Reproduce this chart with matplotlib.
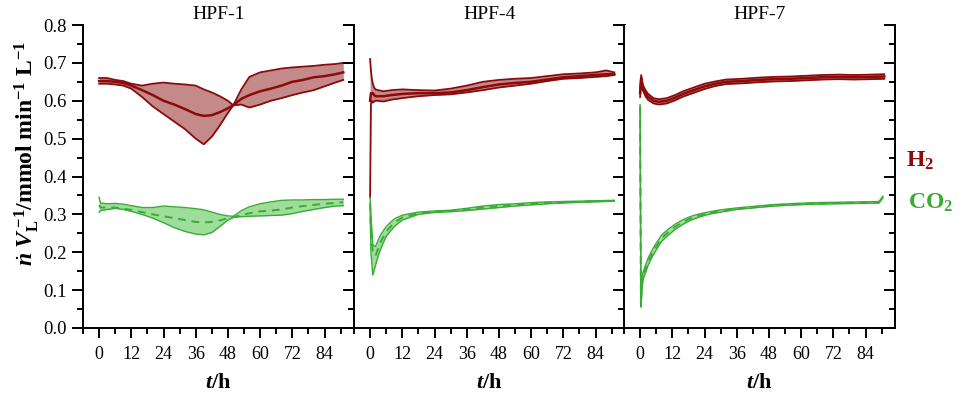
import matplotlib
matplotlib.use("Agg")
import matplotlib.pyplot as plt
from matplotlib.ticker import MultipleLocator, FormatStrFormatter

plt.rcParams["font.family"] = "Liberation Serif"
plt.rcParams["mathtext.fontset"] = "custom"
plt.rcParams["mathtext.rm"] = "Liberation Serif"
plt.rcParams["mathtext.it"] = "Liberation Serif:italic"
plt.rcParams["mathtext.bf"] = "Liberation Serif:bold"
plt.rcParams["mathtext.bfit"] = "Liberation Serif:bold:italic"

H2_LINE = "#8b0a0a"
H2_FILL = "#c48a8a"
CO2_LINE = "#3aab35"
CO2_FILL = "#9fdd9a"

titles = ["HPF-1", "HPF-4", "HPF-7"]

# ---- HPF-1 ----
t1_h2 = [0, 3, 6, 9, 12, 16, 20, 24, 28, 32, 36, 39, 42, 45, 48, 50, 53, 56, 60, 64, 68, 72, 76, 80, 84, 88, 91]
h2_1_up = [0.660, 0.660, 0.655, 0.652, 0.645, 0.640, 0.645, 0.648, 0.645, 0.643, 0.640, 0.630, 0.622, 0.612, 0.600, 0.588, 0.630, 0.663, 0.675, 0.680, 0.685, 0.688, 0.690, 0.692, 0.695, 0.697, 0.700]
h2_1_mid = [0.652, 0.652, 0.650, 0.647, 0.640, 0.628, 0.615, 0.600, 0.590, 0.578, 0.565, 0.560, 0.562, 0.570, 0.580, 0.588, 0.605, 0.615, 0.625, 0.632, 0.640, 0.650, 0.655, 0.662, 0.665, 0.670, 0.675]
h2_1_lo = [0.645, 0.645, 0.643, 0.640, 0.632, 0.610, 0.585, 0.565, 0.545, 0.525, 0.500, 0.485, 0.505, 0.535, 0.568, 0.588, 0.590, 0.582, 0.590, 0.600, 0.607, 0.615, 0.622, 0.628, 0.638, 0.648, 0.655]

t1_co2 = [0, 0.5, 3, 6, 9, 12, 16, 20, 24, 28, 32, 36, 39, 42, 45, 48, 50, 53, 56, 60, 64, 68, 72, 76, 80, 84, 88, 91]
co2_1_up = [0.345, 0.330, 0.328, 0.329, 0.327, 0.323, 0.318, 0.318, 0.322, 0.320, 0.318, 0.315, 0.312, 0.306, 0.300, 0.296, 0.295, 0.310, 0.320, 0.328, 0.333, 0.337, 0.338, 0.338, 0.339, 0.339, 0.340, 0.340]
co2_1_mid = [0.325, 0.318, 0.318, 0.318, 0.315, 0.312, 0.306, 0.300, 0.295, 0.290, 0.285, 0.280, 0.279, 0.280, 0.284, 0.290, 0.293, 0.298, 0.303, 0.308, 0.310, 0.313, 0.318, 0.322, 0.325, 0.328, 0.330, 0.332]
co2_1_lo = [0.305, 0.310, 0.313, 0.316, 0.313, 0.308, 0.300, 0.290, 0.278, 0.265, 0.255, 0.248, 0.246, 0.252, 0.268, 0.285, 0.292, 0.294, 0.295, 0.296, 0.297, 0.298, 0.302, 0.308, 0.313, 0.318, 0.322, 0.323]

# ---- HPF-4 ----
t4_h2 = [0, 0.3, 0.6, 1, 1.5, 2, 3, 5, 8, 12, 18, 24, 30, 36, 42, 48, 54, 60, 66, 72, 78, 84, 88, 91]
h2_4_up = [0.710, 0.680, 0.660, 0.645, 0.635, 0.630, 0.628, 0.625, 0.628, 0.630, 0.628, 0.627, 0.632, 0.640, 0.650, 0.655, 0.658, 0.660, 0.665, 0.670, 0.672, 0.675, 0.680, 0.675]
h2_4_mid = [0.600, 0.620, 0.620, 0.620, 0.615, 0.612, 0.612, 0.612, 0.615, 0.618, 0.620, 0.620, 0.622, 0.628, 0.636, 0.643, 0.647, 0.650, 0.656, 0.662, 0.665, 0.668, 0.670, 0.670]
h2_4_lo = [0.345, 0.590, 0.600, 0.595, 0.598, 0.600, 0.600, 0.598, 0.603, 0.607, 0.612, 0.615, 0.617, 0.622, 0.628, 0.635, 0.640, 0.645, 0.652, 0.658, 0.660, 0.663, 0.665, 0.668]

t4_co2 = [0, 0.3, 1, 2, 3, 4, 6, 9, 12, 18, 24, 30, 36, 42, 48, 54, 60, 66, 72, 78, 84, 91]
co2_4_up = [0.345, 0.300, 0.220, 0.215, 0.232, 0.247, 0.268, 0.288, 0.298, 0.306, 0.309, 0.311, 0.316, 0.322, 0.326, 0.328, 0.331, 0.333, 0.334, 0.335, 0.336, 0.337]
co2_4_mid = [0.330, 0.250, 0.200, 0.190, 0.210, 0.228, 0.255, 0.278, 0.292, 0.303, 0.307, 0.309, 0.313, 0.318, 0.322, 0.325, 0.328, 0.330, 0.332, 0.333, 0.335, 0.336]
co2_4_lo = [0.320, 0.200, 0.140, 0.165, 0.190, 0.210, 0.242, 0.268, 0.285, 0.300, 0.305, 0.307, 0.310, 0.314, 0.318, 0.322, 0.325, 0.328, 0.330, 0.332, 0.333, 0.335]

# ---- HPF-7 ----
t7_h2 = [0, 0.4, 1, 2, 3, 5, 7, 10, 13, 16, 20, 24, 28, 32, 38, 44, 50, 56, 62, 68, 74, 80, 86, 91]
h2_7_up = [0.630, 0.668, 0.642, 0.628, 0.618, 0.607, 0.604, 0.607, 0.615, 0.625, 0.635, 0.645, 0.651, 0.656, 0.658, 0.661, 0.663, 0.664, 0.666, 0.668, 0.669, 0.668, 0.669, 0.670]
h2_7_mid = [0.620, 0.660, 0.635, 0.620, 0.610, 0.600, 0.597, 0.600, 0.608, 0.618, 0.628, 0.638, 0.645, 0.650, 0.652, 0.655, 0.657, 0.658, 0.660, 0.662, 0.663, 0.662, 0.663, 0.664]
h2_7_lo = [0.610, 0.652, 0.628, 0.612, 0.602, 0.593, 0.590, 0.593, 0.601, 0.611, 0.621, 0.631, 0.639, 0.644, 0.646, 0.649, 0.651, 0.652, 0.654, 0.656, 0.657, 0.656, 0.657, 0.658]

t7_co2 = [0, 0.3, 0.6, 1, 2, 3, 4.5, 6, 8, 10, 13, 16, 19, 22, 26, 30, 36, 42, 50, 58, 66, 74, 82, 89, 90.5]
co2_7_up = [0.590, 0.070, 0.110, 0.145, 0.165, 0.185, 0.206, 0.224, 0.245, 0.258, 0.274, 0.286, 0.295, 0.301, 0.307, 0.312, 0.317, 0.321, 0.326, 0.329, 0.331, 0.332, 0.333, 0.334, 0.348]
co2_7_mid = [0.585, 0.060, 0.100, 0.135, 0.155, 0.175, 0.197, 0.215, 0.237, 0.250, 0.267, 0.280, 0.290, 0.297, 0.304, 0.309, 0.315, 0.319, 0.324, 0.327, 0.329, 0.330, 0.331, 0.332, 0.346]
co2_7_lo = [0.580, 0.055, 0.092, 0.126, 0.146, 0.166, 0.188, 0.206, 0.229, 0.242, 0.260, 0.274, 0.285, 0.293, 0.301, 0.306, 0.313, 0.317, 0.322, 0.325, 0.327, 0.328, 0.329, 0.330, 0.344]

panels = [
    (t1_h2, h2_1_lo, h2_1_mid, h2_1_up, t1_co2, co2_1_lo, co2_1_mid, co2_1_up),
    (t4_h2, h2_4_lo, h2_4_mid, h2_4_up, t4_co2, co2_4_lo, co2_4_mid, co2_4_up),
    (t7_h2, h2_7_lo, h2_7_mid, h2_7_up, t7_co2, co2_7_lo, co2_7_mid, co2_7_up),
]

fig = plt.figure(figsize=(9.63, 3.97), dpi=100)
lefts = [83 / 963, 354 / 963, 624 / 963]
width = 270.5 / 963
bottom = (397 - 328) / 397
height = 303 / 397

for i, (th, hlo, hmid, hup, tc, clo, cmid, cup) in enumerate(panels):
    ax = fig.add_axes([lefts[i], bottom, width, height])
    ax.fill_between(th, hlo, hup, color=H2_FILL, lw=0)
    ax.plot(th, hup, color=H2_LINE, lw=1.3)
    ax.plot(th, hlo, color=H2_LINE, lw=1.3)
    ax.plot(th, hmid, color=H2_LINE, lw=1.8)

    ax.fill_between(tc, clo, cup, color=CO2_FILL, lw=0)
    ax.plot(tc, cup, color=CO2_LINE, lw=1.0)
    ax.plot(tc, clo, color=CO2_LINE, lw=1.0)
    ax.plot(tc, cmid, color=CO2_LINE, lw=1.4, ls=(0, (4, 3)))

    ax.set_xlim(-6, 94.8)
    ax.set_ylim(0, 0.8)
    ax.set_title(titles[i], fontsize=14, pad=4)

    ax.spines["top"].set_visible(False)
    for s in ["left", "right", "bottom"]:
        ax.spines[s].set_linewidth(1.4)

    ax.xaxis.set_major_locator(MultipleLocator(12))
    ax.xaxis.set_minor_locator(MultipleLocator(6))
    ax.yaxis.set_major_locator(MultipleLocator(0.1))
    ax.yaxis.set_minor_locator(MultipleLocator(0.05))
    ax.yaxis.set_major_formatter(FormatStrFormatter("%.1f"))

    ax.tick_params(axis="x", which="both", direction="out", top=False, labelsize=13, width=1.4)
    ax.tick_params(axis="x", which="major", length=7, pad=6)
    ax.tick_params(axis="x", which="minor", length=4)
    ax.tick_params(axis="y", which="both", left=True, right=False, direction="out", width=1.4, labelsize=13.5)
    ax.tick_params(axis="y", which="major", length=8, pad=4)
    ax.tick_params(axis="y", which="minor", length=4)
    if i > 0:
        ax.tick_params(axis="y", labelleft=False)

    # right-hand ticks pointing inward
    ry = ax.secondary_yaxis("right")
    ry.yaxis.set_major_locator(MultipleLocator(0.1))
    ry.yaxis.set_minor_locator(MultipleLocator(0.05))
    ry.tick_params(which="both", direction="in", width=1.4, labelright=False)
    ry.tick_params(which="major", length=8)
    ry.tick_params(which="minor", length=4)
    ry.spines["right"].set_linewidth(1.4)

    ax.set_xlabel(r"$\mathbfit{t}\mathbf{/h}$", fontsize=16, labelpad=8)

    if i == 0:
        ax.set_ylabel(r"$\dot{\mathbfit{n}}\ \mathbfit{V}_{\mathbf{L}}^{\ \mathbf{-1}}\mathbf{/mmol\ min^{-1}\ L^{-1}}$",
                      fontsize=17)
        ax.yaxis.set_label_coords(-0.155, 0.575)

fig.text(0.955, 0.595, r"$\mathbf{H_2}$", color=H2_LINE, fontsize=17, ha="center", va="center")
fig.text(0.966, 0.488, r"$\mathbf{CO_2}$", color=CO2_LINE, fontsize=17, ha="center", va="center")

fig.savefig("out.png", dpi=100)
